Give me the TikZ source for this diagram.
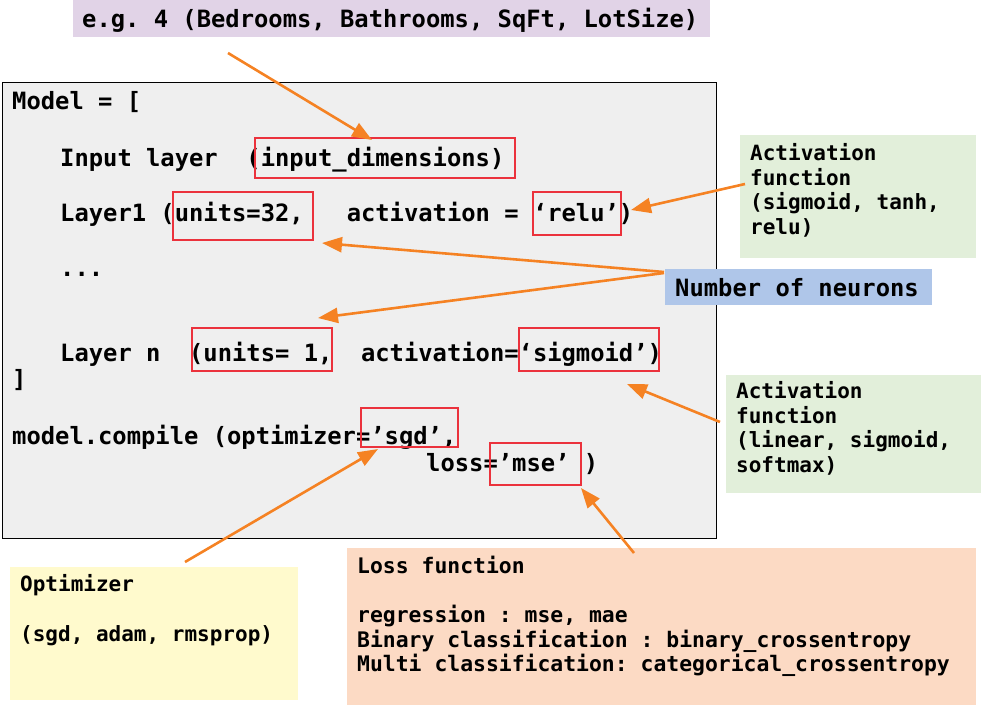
\documentclass[tikz,border=0pt]{standalone}
\usepackage{fontspec}
\setmainfont{DejaVu Sans Mono}
\usetikzlibrary{arrows.meta}
\frenchspacing
\definecolor{cpurple}{RGB}{225,211,231}
\definecolor{cgreen}{RGB}{226,239,218}
\definecolor{cblue}{RGB}{175,198,233}
\definecolor{cyellow}{RGB}{255,250,205}
\definecolor{cpeach}{RGB}{252,218,196}
\definecolor{cgray}{RGB}{239,239,239}
\definecolor{corange}{RGB}{245,130,35}
\definecolor{cred}{RGB}{235,50,60}
\tikzset{
  code/.style={anchor=base west,inner sep=0pt,font=\bfseries\fontsize{23.8}{28}\selectfont},
  note/.style={anchor=base west,inner sep=0pt,font=\bfseries\fontsize{21}{25}\selectfont},
  lossnote/.style={anchor=base west,inner sep=0pt,font=\bfseries\fontsize{21.4}{25}\selectfont},
  redbox/.style={draw=cred,line width=1.6pt,inner sep=0pt},
  callout/.style={draw=corange,line width=2.6pt,-{Triangle[length=20pt,width=15pt]}},
  panel/.style={inner sep=0pt,anchor=north west}
}
\begin{document}
\begin{tikzpicture}[x=1pt,y=-1pt]
\useasboundingbox (0,0) rectangle (981,705);
% background panels
\node[panel,fill=cpurple,minimum width=637pt,minimum height=37pt] (topbox) at (73,0) {};
\node[panel,fill=cgray,draw=black,line width=1pt,minimum width=714pt,minimum height=456pt] (codebox) at (2,82) {};
\node[panel,fill=cgreen,minimum width=236pt,minimum height=123pt] (act1box) at (740,135) {};
\node[panel,fill=cblue,minimum width=267pt,minimum height=36pt] (neubox) at (665,269) {};
\node[panel,fill=cgreen,minimum width=255pt,minimum height=118pt] (act2box) at (726,375) {};
\node[panel,fill=cyellow,minimum width=288pt,minimum height=133pt] (optbox) at (10,567) {};
\node[panel,fill=cpeach,minimum width=629pt,minimum height=157pt] (lossbox) at (347,548) {};
% texts
\node[code] (ttop) at (82,27) {e.g. 4 (Bedrooms, Bathrooms, SqFt, LotSize)};
\node[code] (l1) at (12,109) {Model = [};
\node[code] (l2) at (60,166) {Input layer\ \ (input\_dimensions)};
\node[code] (l3) at (60,221) {Layer1 (units=32,\ \ \ activation = ‘relu’)};
\node[code] (l4) at (60,276) {...};
\node[code] (l5) at (60,361) {Layer n\ \ (units= 1,\ \ activation=‘sigmoid’)};
\node[code] (l6) at (12,387) {]};
\node[code] (l7) at (12,444) {model.compile (optimizer=’sgd’,};
\node[code] (l8) at (426,471) {loss=’mse’ )};
\node[note] (a1) at (750,160) {Activation};
\node[note] (a2) at (750,185) {function};
\node[note] (a3) at (750,209.5) {(sigmoid, tanh,};
\node[note] (a4) at (750,234) {relu)};
\node[code] (nn) at (675,296) {Number of neurons};
\node[note] (b1) at (736,398) {Activation};
\node[note] (b2) at (736,423) {function};
\node[note] (b3) at (736,447.5) {(linear, sigmoid,};
\node[note] (b4) at (736,472) {softmax)};
\node[note] (o1) at (20,591) {Optimizer};
\node[note] (o2) at (20,641) {(sgd, adam, rmsprop)};
\node[lossnote] (s1) at (357,573) {Loss function};
\node[lossnote] (s2) at (357,622) {regression : mse, mae};
\node[lossnote] (s3) at (357,647) {Binary classification : binary\_crossentropy};
\node[lossnote] (s4) at (357,671) {Multi classification: categorical\_crossentropy};
% red boxes
\node[redbox,minimum width=260pt,minimum height=40pt] (r1) at (385,158) {};
\node[redbox,minimum width=140pt,minimum height=48pt] (r2) at (243,216) {};
\node[redbox,minimum width=88pt,minimum height=43pt] (r3) at (577,213.5) {};
\node[redbox,minimum width=140pt,minimum height=43pt] (r4) at (262,349.5) {};
\node[redbox,minimum width=140pt,minimum height=43pt] (r5) at (589,349.5) {};
\node[redbox,minimum width=97pt,minimum height=39pt] (r6) at (409.5,427.5) {};
\node[redbox,minimum width=91pt,minimum height=42pt] (r7) at (535.5,464) {};
% arrow end points
\coordinate (p1s) at (228,53);   \coordinate (p1e) at (372,140);
\coordinate (p2s) at (745,184);  \coordinate (p2e) at (631,210);
\coordinate (p3s) at (664,272);  \coordinate (p3e) at (322,243);
\coordinate (p4s) at (664,273);  \coordinate (p4e) at (318,318);
\coordinate (p5s) at (720,422);  \coordinate (p5e) at (627,384);
\coordinate (p6s) at (185,562);  \coordinate (p6e) at (378,449);
\coordinate (p7s) at (634,553);  \coordinate (p7e) at (581,488);
\draw[callout] (p1s) -- (p1e);
\draw[callout] (p2s) -- (p2e);
\draw[callout] (p3s) -- (p3e);
\draw[callout] (p4s) -- (p4e);
\draw[callout] (p5s) -- (p5e);
\draw[callout] (p6s) -- (p6e);
\draw[callout] (p7s) -- (p7e);
\end{tikzpicture}
\end{document}
